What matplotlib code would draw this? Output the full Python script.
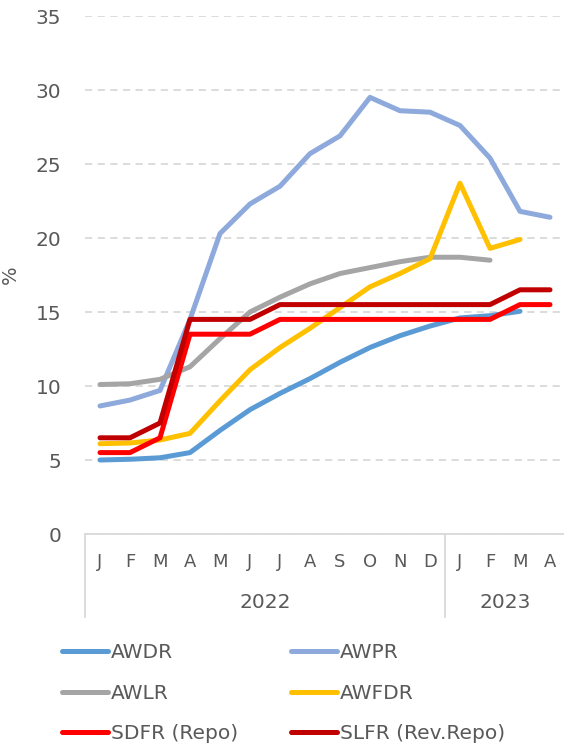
import numpy as np
import matplotlib.pyplot as plt
from matplotlib import transforms

# monthly data, Jan 2022 - Apr 2023
months = ['J', 'F', 'M', 'A', 'M', 'J', 'J', 'A', 'S', 'O', 'N', 'D', 'J', 'F', 'M', 'A']
years = ['2022', '2023']
year_centres = [5.5, 13.5]

awdr = [5.0, 5.05, 5.15, 5.5, 7.0, 8.4, 9.5, 10.5, 11.6, 12.6, 13.4, 14.05, 14.6, 14.75, 15.05, np.nan]
awpr = [8.65, 9.05, 9.7, 14.5, 20.3, 22.3, 23.5, 25.7, 26.9, 29.5, 28.6, 28.5, 27.6, 25.4, 21.8, 21.4]
awlr = [10.1, 10.15, 10.45, 11.3, 13.2, 15.0, 16.0, 16.9, 17.6, 18.0, 18.4, 18.7, 18.7, 18.5, np.nan, np.nan]
awfdr = [6.1, 6.15, 6.35, 6.8, 9.0, 11.1, 12.6, 13.9, 15.3, 16.7, 17.6, 18.6, 23.7, 19.3, 19.9, np.nan]
sdfr = [5.5, 5.5, 6.5, 13.5, 13.5, 13.5, 14.5, 14.5, 14.5, 14.5, 14.5, 14.5, 14.5, 14.5, 15.5, 15.5]
slfr = [6.5, 6.5, 7.5, 14.5, 14.5, 14.5, 15.5, 15.5, 15.5, 15.5, 15.5, 15.5, 15.5, 15.5, 16.5, 16.5]

series = [
    ('AWDR', awdr, '#5B9BD5'),
    ('AWPR', awpr, '#8EA9DB'),
    ('AWLR', awlr, '#A5A5A5'),
    ('AWFDR', awfdr, '#FFC000'),
    ('SDFR (Repo)', sdfr, '#FF0000'),
    ('SLFR (Rev.Repo)', slfr, '#C00000'),
]

txt = '#595959'
grid = '#D9D9D9'

fig = plt.figure(figsize=(5.64, 7.45), dpi=100)
ax = fig.add_axes([85 / 564, 1 - 534 / 745, 480 / 564, 518 / 745])

x = np.arange(len(months))
lines = []
for name, vals, col in series:
    ln, = ax.plot(x, vals, color=col, lw=3.6, label=name, solid_capstyle='round',
                  solid_joinstyle='round')
    lines.append(ln)

ax.set_xlim(-0.5, len(months) - 0.5)
ax.set_ylim(0, 35)
ax.set_yticks(range(0, 36, 5))
ax.yaxis.grid(True, color=grid, ls=(0, (4, 3)), lw=1.3)
ax.set_axisbelow(True)
for s in ['top', 'right', 'left']:
    ax.spines[s].set_visible(False)
ax.spines['bottom'].set_color(grid)
ax.spines['bottom'].set_linewidth(1.3)

ax.set_xticks(x)
ax.set_xticklabels(months)
ax.tick_params(axis='x', length=0, pad=14, labelsize=13, labelcolor=txt)
ax.tick_params(axis='y', length=0, pad=17, labelsize=14.5, labelcolor=txt)
ax.set_ylabel('%', fontsize=14, color=txt)
ax.yaxis.set_label_coords(-(85 - 20) / 480, 0.5)

# year labels and category dividers below the axis
trans = transforms.blended_transform_factory(ax.transData, ax.transAxes)
for yr, xc in zip(years, year_centres):
    ax.text(xc, -0.133, yr, transform=trans, ha='center', va='center',
            fontsize=14.5, color=txt)
for xd in [-0.5, 11.5]:
    ax.plot([xd, xd], [0, -0.161], transform=trans, color=grid, lw=1.3,
            clip_on=False)

# legend filled row by row
order = [0, 2, 4, 1, 3, 5]
fig.legend([lines[i] for i in order], [series[i][0] for i in order],
           loc='upper left', bbox_to_anchor=(62 / 564, 1 - 643 / 745), ncol=2,
           frameon=False, fontsize=14.5, labelcolor=txt, handlelength=2.3,
           handletextpad=0.15, columnspacing=2.6, labelspacing=1.07,
           borderpad=0, borderaxespad=0)

fig.savefig('out.png', dpi=100)
